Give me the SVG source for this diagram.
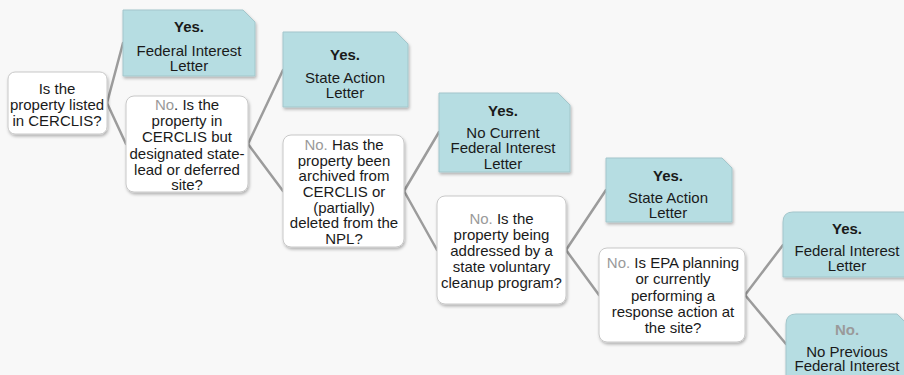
<svg xmlns="http://www.w3.org/2000/svg" width="904" height="375" viewBox="0 0 904 375">
<defs>
<filter id="sh" x="-10%" y="-10%" width="125%" height="130%">
<feDropShadow dx="1" dy="2" stdDeviation="1.5" flood-color="#000" flood-opacity="0.28"/>
</filter>
<style>
.q{fill:#ffffff;stroke:#c8c8c8;stroke-width:1;filter:url(#sh)}
.a{fill:#b6dde2;stroke:#a3c6cb;stroke-width:1;filter:url(#sh)}
text{font-family:"Liberation Sans",Arial,sans-serif;font-size:15px;fill:#1a1a1a;text-anchor:middle}
.b{font-weight:bold}
.g{fill:#9a9a9a}
.c line{stroke:#9c9c9c;stroke-width:2.5;stroke-linecap:round}
</style>
</defs>
<rect width="904" height="375" fill="#f8f8f8"/>
<g class="c" id="connectors">
<line x1="107" y1="103" x2="123" y2="43"/>
<line x1="107" y1="103" x2="126" y2="144"/>
<line x1="248" y1="144" x2="283" y2="70"/>
<line x1="248" y1="144" x2="283" y2="191"/>
<line x1="404" y1="191" x2="439" y2="132"/>
<line x1="404" y1="191" x2="437" y2="250"/>
<line x1="566" y1="250" x2="606" y2="190"/>
<line x1="566" y1="250" x2="599" y2="295"/>
<line x1="745" y1="295" x2="783" y2="245"/>
<line x1="745" y1="295" x2="786" y2="344"/>
</g>
<g id="q1">
<rect class="q" x="8" y="72" width="99" height="62" rx="7"/>
<text x="57" y="94">Is the</text>
<text x="57" y="110">property listed</text>
<text x="57" y="126">in CERCLIS?</text>
</g>
<g id="yes1">
<path class="a" d="M123,10 H243 L255,22 V76 H123 Z"/>
<text x="189" y="32" class="b">Yes.</text>
<text x="189" y="56">Federal Interest</text>
<text x="189" y="71">Letter</text>
</g>
<g id="no1">
<rect class="q" x="126" y="96" width="122" height="96" rx="8"/>
<text x="187" y="110"><tspan class="g">No</tspan>. Is the</text>
<text x="187" y="126">property in</text>
<text x="187" y="142">CERCLIS but</text>
<text x="187" y="159">designated state-</text>
<text x="187" y="175">lead or deferred</text>
<text x="187" y="190">site?</text>
</g>
<g id="yes2">
<path class="a" d="M283,32 H396 L408,44 V107 H283 Z"/>
<text x="345" y="60" class="b">Yes.</text>
<text x="345" y="83">State Action</text>
<text x="345" y="98">Letter</text>
</g>
<g id="no2">
<rect class="q" x="283" y="135" width="121" height="112" rx="8"/>
<text x="344" y="150"><tspan class="g">No.</tspan> Has the</text>
<text x="344" y="166">property been</text>
<text x="344" y="181">archived from</text>
<text x="344" y="197">CERCLIS or</text>
<text x="344" y="213">(partially)</text>
<text x="344" y="228">deleted from the</text>
<text x="344" y="244">NPL?</text>
</g>
<g id="yes3">
<path class="a" d="M439,93 H558 L570,105 V172 H439 Z"/>
<text x="503" y="116" class="b">Yes.</text>
<text x="503" y="138">No Current</text>
<text x="503" y="153">Federal Interest</text>
<text x="503" y="169">Letter</text>
</g>
<g id="no3">
<rect class="q" x="437" y="196" width="129" height="108" rx="8"/>
<text x="501.5" y="224"><tspan class="g">No.</tspan> Is the</text>
<text x="501.5" y="240">property being</text>
<text x="501.5" y="256">addressed by a</text>
<text x="501.5" y="272">state voluntary</text>
<text x="501.5" y="288">cleanup program?</text>
</g>
<g id="yes4">
<path class="a" d="M606,158 H722 L732,168 V222 H606 Z"/>
<text x="668" y="181" class="b">Yes.</text>
<text x="668" y="203">State Action</text>
<text x="668" y="218">Letter</text>
</g>
<g id="no4">
<rect class="q" x="599" y="248" width="146" height="94" rx="8"/>
<text x="673" y="268"><tspan class="g">No.</tspan> Is EPA planning</text>
<text x="673" y="284">or currently</text>
<text x="673" y="301">performing a</text>
<text x="673" y="317">response action at</text>
<text x="673" y="333">the site?</text>
</g>
<g id="yes5">
<path class="a" d="M783,222 Q783,212 793,212 H912 V277 H783 Z"/>
<text x="847" y="234" class="b">Yes.</text>
<text x="847" y="256">Federal Interest</text>
<text x="847" y="271">Letter</text>
</g>
<g id="no5">
<path class="a" d="M786,324 Q786,314 796,314 H897 L908,325 V380 H786 Z"/>
<text x="847" y="335" class="b g">No.</text>
<text x="847" y="357">No Previous</text>
<text x="847" y="371">Federal Interest</text>
</g>
</svg>
